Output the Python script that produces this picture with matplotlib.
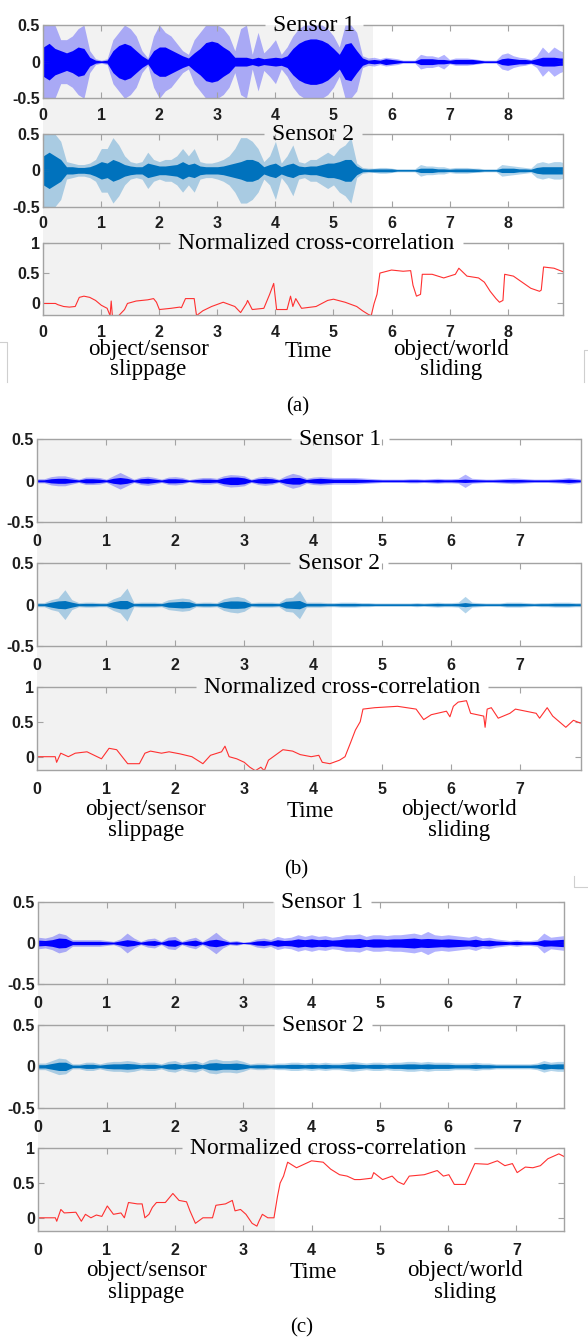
import numpy as np
import matplotlib
matplotlib.use("Agg")
import matplotlib.pyplot as plt
from matplotlib.transforms import blended_transform_factory
from matplotlib.patches import Rectangle
from matplotlib.lines import Line2D

plt.rcParams['font.family'] = ['Liberation Sans', 'DejaVu Sans']
SERIF = ['Liberation Serif', 'DejaVu Serif']

# ---------------- data (envelopes, 0.1 s steps) ----------------
# panel (a), t = 0.0 ... 9.0
core_a1 = [0.20, 0.25, 0.18, 0.15, 0.12, 0.15, 0.20, 0.18, 0.06, 0.02,
           0.01, 0.02, 0.15, 0.22, 0.25, 0.22, 0.15, 0.08, 0.03, 0.15,
           0.20, 0.20, 0.16, 0.12, 0.08, 0.05, 0.12, 0.18, 0.26, 0.28,
           0.26, 0.20, 0.15, 0.06, 0.06, 0.06, 0.04, 0.06, 0.04, 0.05,
           0.06, 0.05, 0.08, 0.18, 0.25, 0.29, 0.31, 0.31, 0.29, 0.25,
           0.18, 0.10, 0.24, 0.26, 0.15, 0.05, 0.02, 0.03, 0.02, 0.04,
           0.03, 0.02, 0.01, 0.01, 0.01, 0.04, 0.04, 0.04, 0.03, 0.03,
           0.02, 0.03, 0.03, 0.03, 0.03, 0.02, 0.01, 0.01, 0.01, 0.04,
           0.05, 0.04, 0.03, 0.03, 0.02, 0.04, 0.06, 0.06, 0.06, 0.05, 0.05]
peak_a1 = [0.50, 0.50, 0.50, 0.30, 0.30, 0.35, 0.45, 0.50, 0.15, 0.04,
           0.02, 0.04, 0.30, 0.40, 0.50, 0.45, 0.35, 0.15, 0.05, 0.35,
           0.50, 0.40, 0.35, 0.25, 0.15, 0.10, 0.30, 0.40, 0.50, 0.50,
           0.50, 0.45, 0.35, 0.15, 0.45, 0.50, 0.10, 0.40, 0.12, 0.20,
           0.30, 0.10, 0.20, 0.35, 0.45, 0.50, 0.50, 0.50, 0.50, 0.45,
           0.35, 0.20, 0.50, 0.50, 0.40, 0.08, 0.05, 0.06, 0.04, 0.06,
           0.05, 0.04, 0.02, 0.02, 0.02, 0.10, 0.08, 0.08, 0.06, 0.10,
           0.03, 0.05, 0.05, 0.05, 0.04, 0.03, 0.02, 0.02, 0.02, 0.10,
           0.12, 0.08, 0.06, 0.05, 0.03, 0.08, 0.20, 0.12, 0.20, 0.15, 0.12]
core_a2 = [0.20, 0.25, 0.20, 0.15, 0.05, 0.05, 0.04, 0.04, 0.05, 0.08,
           0.12, 0.10, 0.15, 0.12, 0.08, 0.06, 0.05, 0.05, 0.10, 0.08,
           0.06, 0.06, 0.07, 0.08, 0.12, 0.08, 0.10, 0.06, 0.05, 0.05,
           0.05, 0.06, 0.08, 0.10, 0.12, 0.15, 0.15, 0.12, 0.05, 0.08,
           0.10, 0.05, 0.08, 0.10, 0.06, 0.05, 0.06, 0.06, 0.08, 0.10,
           0.10, 0.12, 0.15, 0.15, 0.06, 0.02, 0.015, 0.02, 0.02, 0.02,
           0.02, 0.01, 0.01, 0.01, 0.01, 0.03, 0.03, 0.03, 0.02, 0.02,
           0.015, 0.02, 0.02, 0.02, 0.02, 0.015, 0.01, 0.01, 0.01, 0.03,
           0.03, 0.03, 0.02, 0.02, 0.015, 0.04, 0.05, 0.05, 0.05, 0.05, 0.05]
peak_a2 = [0.50, 0.50, 0.50, 0.40, 0.12, 0.10, 0.08, 0.08, 0.10, 0.15,
           0.30, 0.30, 0.45, 0.35, 0.20, 0.12, 0.10, 0.12, 0.25, 0.15,
           0.12, 0.15, 0.15, 0.20, 0.30, 0.20, 0.30, 0.12, 0.10, 0.10,
           0.12, 0.15, 0.20, 0.30, 0.45, 0.45, 0.40, 0.30, 0.12, 0.20,
           0.40, 0.10, 0.20, 0.35, 0.12, 0.10, 0.15, 0.15, 0.20, 0.25,
           0.20, 0.30, 0.35, 0.45, 0.10, 0.04, 0.03, 0.03, 0.04, 0.04,
           0.03, 0.02, 0.02, 0.02, 0.02, 0.08, 0.06, 0.06, 0.05, 0.05,
           0.03, 0.04, 0.04, 0.04, 0.03, 0.03, 0.02, 0.02, 0.02, 0.08,
           0.07, 0.06, 0.05, 0.04, 0.03, 0.10, 0.12, 0.10, 0.12, 0.12, 0.10]
corr_a_t = [0.0, 0.21, 0.25, 0.35, 0.45, 0.55, 0.62, 0.70, 0.80, 0.90,
            1.00, 1.10, 1.15, 1.17, 1.19, 1.30, 1.40, 1.45, 1.60, 1.80,
            1.90, 1.95, 2.00, 2.20, 2.35, 2.38, 2.45, 2.60, 2.64, 2.75,
            2.90, 3.10, 3.30, 3.40, 3.50, 3.52, 3.60, 3.80, 3.90, 3.97,
            4.02, 4.20, 4.26, 4.30, 4.35, 4.45, 4.70, 4.90, 5.00, 5.20,
            5.40, 5.50, 5.60, 5.65, 5.70, 5.75, 5.80, 6.00, 6.20, 6.33,
            6.37, 6.43, 6.50, 6.53, 6.70, 6.90, 7.10, 7.16, 7.30, 7.50,
            7.60, 7.70, 7.80, 7.86, 7.92, 7.95, 8.10, 8.25, 8.40, 8.55,
            8.58, 8.62, 8.80, 8.96]
corr_a_v = [0.00, 0.00, -0.02, -0.05, -0.06, -0.05, 0.10, 0.12, 0.10, 0.05,
            -0.03, -0.08, -0.20, 0.04, -0.20, -0.20, -0.10, 0.00, 0.04, 0.06,
            0.08, 0.02, -0.10, -0.08, -0.06, -0.07, 0.08, 0.08, -0.20, -0.12,
            -0.05, 0.02, -0.05, -0.15, 0.00, 0.05, -0.10, -0.08, 0.15, 0.33,
            -0.10, -0.10, 0.12, -0.05, 0.08, -0.08, -0.05, 0.05, 0.07, 0.02,
            -0.05, -0.12, -0.18, -0.20, 0.00, 0.15, 0.50, 0.55, 0.53, 0.54,
            0.30, 0.12, 0.15, 0.48, 0.48, 0.42, 0.48, 0.58, 0.45, 0.42,
            0.35, 0.20, 0.08, 0.02, 0.05, 0.48, 0.45, 0.35, 0.25, 0.20,
            0.22, 0.60, 0.58, 0.52]

# panel (b), t = 0.0 ... 7.9
core_b1 = [0.012, 0.012, 0.025, 0.030, 0.030, 0.020, 0.010, 0.025, 0.025, 0.020,
           0.010, 0.030, 0.040, 0.030, 0.010, 0.025, 0.030, 0.020, 0.010, 0.025,
           0.025, 0.020, 0.008, 0.015, 0.020, 0.020, 0.015, 0.035, 0.045, 0.045,
           0.035, 0.010, 0.025, 0.030, 0.025, 0.010, 0.030, 0.040, 0.040, 0.015,
           0.025, 0.030, 0.025, 0.020, 0.020, 0.020, 0.020, 0.018, 0.015, 0.012,
           0.010, 0.010, 0.010, 0.010, 0.012, 0.012, 0.010, 0.012, 0.015, 0.012,
           0.012, 0.015, 0.020, 0.015, 0.012, 0.010, 0.010, 0.012, 0.015, 0.015,
           0.015, 0.012, 0.010, 0.010, 0.010, 0.012, 0.015, 0.020, 0.015, 0.010]
peak_b1 = [0.025, 0.025, 0.050, 0.060, 0.060, 0.040, 0.020, 0.045, 0.045, 0.040,
           0.020, 0.060, 0.100, 0.060, 0.020, 0.045, 0.055, 0.040, 0.020, 0.045,
           0.050, 0.040, 0.015, 0.030, 0.040, 0.040, 0.030, 0.060, 0.075, 0.070,
           0.060, 0.020, 0.045, 0.055, 0.045, 0.020, 0.060, 0.090, 0.070, 0.030,
           0.045, 0.050, 0.045, 0.040, 0.040, 0.040, 0.040, 0.035, 0.030, 0.025,
           0.020, 0.020, 0.020, 0.020, 0.025, 0.025, 0.020, 0.025, 0.030, 0.025,
           0.025, 0.030, 0.080, 0.030, 0.025, 0.020, 0.020, 0.025, 0.030, 0.035,
           0.030, 0.025, 0.020, 0.020, 0.020, 0.025, 0.030, 0.040, 0.030, 0.020]
core_b2 = [0.012, 0.012, 0.030, 0.045, 0.050, 0.030, 0.012, 0.015, 0.015, 0.012,
           0.012, 0.035, 0.050, 0.050, 0.012, 0.015, 0.015, 0.015, 0.012, 0.030,
           0.035, 0.040, 0.035, 0.012, 0.015, 0.015, 0.012, 0.035, 0.045, 0.045,
           0.040, 0.012, 0.015, 0.015, 0.015, 0.012, 0.040, 0.045, 0.050, 0.015,
           0.015, 0.015, 0.012, 0.012, 0.015, 0.015, 0.015, 0.012, 0.012, 0.010,
           0.010, 0.010, 0.010, 0.010, 0.010, 0.012, 0.010, 0.012, 0.015, 0.012,
           0.012, 0.015, 0.025, 0.015, 0.012, 0.010, 0.010, 0.010, 0.015, 0.015,
           0.015, 0.012, 0.010, 0.012, 0.012, 0.015, 0.015, 0.015, 0.012, 0.012]
peak_b2 = [0.025, 0.025, 0.060, 0.080, 0.180, 0.060, 0.025, 0.030, 0.030, 0.025,
           0.025, 0.070, 0.100, 0.200, 0.025, 0.030, 0.030, 0.030, 0.025, 0.060,
           0.070, 0.080, 0.070, 0.025, 0.030, 0.030, 0.025, 0.070, 0.090, 0.100,
           0.080, 0.025, 0.030, 0.030, 0.030, 0.025, 0.080, 0.090, 0.170, 0.030,
           0.030, 0.030, 0.025, 0.025, 0.030, 0.030, 0.030, 0.025, 0.025, 0.020,
           0.020, 0.020, 0.020, 0.020, 0.020, 0.025, 0.020, 0.025, 0.030, 0.025,
           0.025, 0.030, 0.100, 0.030, 0.025, 0.020, 0.020, 0.020, 0.030, 0.030,
           0.030, 0.025, 0.020, 0.025, 0.025, 0.030, 0.030, 0.030, 0.025, 0.025]
corr_b_t = [0.0, 0.26, 0.28, 0.34, 0.45, 0.55, 0.72, 0.93, 1.04, 1.15,
            1.23, 1.31, 1.48, 1.56, 1.64, 1.80, 1.91, 2.07, 2.24, 2.40,
            2.51, 2.67, 2.72, 2.78, 2.89, 3.00, 3.08, 3.16, 3.24, 3.29,
            3.35, 3.56, 3.70, 3.81, 3.97, 4.08, 4.13, 4.24, 4.38, 4.46,
            4.54, 4.61, 4.68, 4.72, 4.89, 5.22, 5.49, 5.60, 5.71, 5.93,
            5.98, 6.03, 6.10, 6.22, 6.28, 6.47, 6.49, 6.52, 6.58, 6.68,
            6.85, 6.93, 7.23, 7.28, 7.39, 7.47, 7.66, 7.77, 7.87]
corr_b_v = [0.00, 0.00, -0.08, 0.05, 0.00, 0.05, 0.07, -0.03, 0.12, 0.10,
            0.00, -0.10, -0.10, 0.05, 0.08, 0.05, 0.07, 0.04, 0.00, -0.10,
            0.02, 0.07, 0.15, 0.00, -0.03, -0.08, -0.15, -0.20, -0.15, -0.20,
            -0.05, 0.10, 0.08, 0.03, 0.00, 0.02, -0.08, -0.10, -0.05, 0.00,
            0.20, 0.38, 0.50, 0.68, 0.70, 0.72, 0.68, 0.53, 0.60, 0.65,
            0.57, 0.72, 0.78, 0.80, 0.62, 0.58, 0.42, 0.68, 0.70, 0.55,
            0.62, 0.68, 0.62, 0.55, 0.70, 0.58, 0.42, 0.52, 0.48]

# panel (c), t = 0.0 ... 7.7
core_c1 = [0.035, 0.030, 0.040, 0.060, 0.055, 0.020, 0.020, 0.020, 0.020, 0.020,
           0.015, 0.010, 0.025, 0.040, 0.030, 0.010, 0.025, 0.030, 0.010, 0.035,
           0.040, 0.010, 0.025, 0.035, 0.010, 0.035, 0.045, 0.030, 0.010, 0.015,
           0.005, 0.010, 0.025, 0.030, 0.020, 0.040, 0.030, 0.035, 0.050, 0.040,
           0.050, 0.040, 0.045, 0.035, 0.040, 0.050, 0.050, 0.055, 0.040, 0.050,
           0.050, 0.045, 0.050, 0.050, 0.055, 0.060, 0.050, 0.055, 0.050, 0.045,
           0.050, 0.045, 0.040, 0.035, 0.045, 0.030, 0.035, 0.025, 0.020, 0.015,
           0.020, 0.015, 0.015, 0.020, 0.040, 0.035, 0.040, 0.045]
peak_c1 = [0.070, 0.060, 0.080, 0.120, 0.100, 0.040, 0.040, 0.040, 0.040, 0.040,
           0.030, 0.020, 0.050, 0.120, 0.060, 0.020, 0.050, 0.060, 0.020, 0.070,
           0.080, 0.020, 0.050, 0.070, 0.020, 0.070, 0.130, 0.060, 0.020, 0.030,
           0.010, 0.020, 0.050, 0.060, 0.040, 0.080, 0.060, 0.070, 0.100, 0.080,
           0.100, 0.080, 0.090, 0.070, 0.080, 0.100, 0.100, 0.110, 0.080, 0.100,
           0.100, 0.090, 0.100, 0.100, 0.110, 0.120, 0.100, 0.140, 0.100, 0.090,
           0.100, 0.090, 0.080, 0.070, 0.090, 0.060, 0.070, 0.050, 0.040, 0.030,
           0.040, 0.030, 0.030, 0.040, 0.120, 0.070, 0.080, 0.090]
core_c2 = [0.020, 0.020, 0.035, 0.050, 0.050, 0.015, 0.015, 0.025, 0.025, 0.015,
           0.025, 0.030, 0.030, 0.035, 0.030, 0.020, 0.025, 0.025, 0.015, 0.030,
           0.035, 0.020, 0.030, 0.035, 0.020, 0.040, 0.045, 0.035, 0.035, 0.040,
           0.030, 0.015, 0.020, 0.020, 0.015, 0.020, 0.020, 0.025, 0.025, 0.020,
           0.025, 0.020, 0.025, 0.020, 0.020, 0.025, 0.030, 0.025, 0.020, 0.025,
           0.025, 0.020, 0.025, 0.025, 0.030, 0.030, 0.025, 0.030, 0.025, 0.025,
           0.025, 0.020, 0.020, 0.020, 0.025, 0.020, 0.020, 0.015, 0.015, 0.015,
           0.015, 0.015, 0.015, 0.020, 0.035, 0.025, 0.030, 0.030]
peak_c2 = [0.040, 0.040, 0.070, 0.100, 0.090, 0.030, 0.030, 0.050, 0.050, 0.030,
           0.050, 0.060, 0.060, 0.070, 0.060, 0.040, 0.050, 0.050, 0.030, 0.060,
           0.070, 0.040, 0.060, 0.070, 0.040, 0.080, 0.090, 0.070, 0.070, 0.080,
           0.060, 0.030, 0.040, 0.040, 0.030, 0.040, 0.040, 0.050, 0.050, 0.040,
           0.050, 0.040, 0.050, 0.040, 0.040, 0.050, 0.060, 0.050, 0.040, 0.050,
           0.050, 0.040, 0.050, 0.050, 0.060, 0.060, 0.050, 0.060, 0.050, 0.050,
           0.050, 0.040, 0.040, 0.040, 0.050, 0.040, 0.040, 0.030, 0.030, 0.030,
           0.030, 0.030, 0.030, 0.040, 0.070, 0.050, 0.060, 0.060]
corr_c_t = [0.0, 0.25, 0.27, 0.33, 0.38, 0.55, 0.63, 0.69, 0.77, 0.85,
            0.93, 1.01, 1.10, 1.21, 1.26, 1.32, 1.45, 1.52, 1.56, 1.62,
            1.67, 1.73, 1.86, 1.97, 2.06, 2.17, 2.22, 2.30, 2.41, 2.55,
            2.60, 2.74, 2.84, 2.88, 2.96, 3.04, 3.13, 3.20, 3.23, 3.28,
            3.36, 3.45, 3.50, 3.54, 3.59, 3.65, 3.78, 4.00, 4.17, 4.28,
            4.41, 4.52, 4.63, 4.71, 4.88, 4.91, 5.04, 5.18, 5.26, 5.35,
            5.43, 5.65, 5.84, 5.93, 6.01, 6.09, 6.25, 6.39, 6.58, 6.72,
            6.83, 6.94, 7.01, 7.13, 7.24, 7.35, 7.46, 7.62, 7.70]
corr_c_v = [0.00, 0.00, -0.05, 0.12, 0.07, 0.08, -0.05, 0.05, 0.00, 0.04,
            0.02, 0.17, 0.05, 0.07, 0.00, 0.22, 0.20, 0.20, 0.00, 0.05,
            0.15, 0.22, 0.22, 0.35, 0.25, 0.23, 0.10, -0.08, 0.00, 0.00,
            0.18, 0.20, 0.25, 0.10, 0.12, 0.05, -0.08, -0.12, -0.05, 0.05,
            0.00, 0.00, 0.30, 0.50, 0.60, 0.80, 0.72, 0.82, 0.80, 0.70,
            0.62, 0.60, 0.55, 0.55, 0.57, 0.65, 0.55, 0.60, 0.52, 0.48,
            0.60, 0.62, 0.68, 0.60, 0.62, 0.48, 0.48, 0.78, 0.77, 0.82,
            0.75, 0.78, 0.65, 0.73, 0.72, 0.75, 0.85, 0.92, 0.88]

signals = {
    'a': (core_a1, peak_a1, core_a2, peak_a2, corr_a_t, corr_a_v),
    'b': (core_b1, peak_b1, core_b2, peak_b2, corr_b_t, corr_b_v),
    'c': (core_c1, peak_c1, core_c2, peak_c2, corr_c_t, corr_c_v),
}

# ---------------- layout (pixels of the 588 x 1338 picture) ----------------
W, H = 588, 1338
layout = {
    'a': dict(left=43.3, right=563.3, rows=[(25, 98.3), (134, 206.7), (242.7, 315)],
              xmax=8.96, shade=5.68, tcx=[314, 313, 316.5],
              lab=[148.5, 308, 451], base=(355, 375), cap=(298, 411), pad=7.0),
    'b': dict(left=37.3, right=581.0, rows=[(439.3, 522.3), (563.3, 646), (686.7, 770)],
              xmax=7.88, shade=4.27, tcx=[340, 339, 342],
              lab=[146, 310, 459], base=(815, 836), cap=(296, 874), pad=8.5),
    'c': dict(left=38.3, right=564.3, rows=[(901.7, 984.3), (1025, 1107.7), (1148.3, 1231)],
              xmax=7.70, shade=3.47, tcx=[322, 323, 328],
              lab=[146.6, 313, 465], base=(1276, 1298), cap=(302, 1332), pad=8.5),
}

SPINE = '#a3a3a3'
SHADE = '#f2f2f2'
BLUE1 = '#0000ff'
BLUE2 = '#0072bd'
RED = '#ff3030'
titles = ['Sensor 1', 'Sensor 2', 'Normalized cross-correlation']

fig = plt.figure(figsize=(W / 100, H / 100), dpi=100)


def fx(x):
    return x / W


def fy(y):
    return 1 - y / H


def style_axes(ax, xmax, ylim, yticks, ylabels, pad):
    ax.set_facecolor('none')
    ax.set_xlim(0, xmax)
    ax.set_ylim(*ylim)
    ax.set_xticks(range(int(xmax) + 1))
    ax.set_xticklabels([str(i) for i in range(int(xmax) + 1)], fontweight='bold')
    ax.set_yticks(yticks)
    ax.set_yticklabels(ylabels, fontweight='bold')
    ax.tick_params(direction='in', top=True, right=True, length=4.5, width=0.8,
                   color=SPINE, labelsize=11.5, labelcolor='#1e1e1e')
    ax.tick_params(axis='x', pad=pad)
    ax.tick_params(axis='y', pad=2.5)
    for s in ['left', 'right', 'bottom']:
        ax.spines[s].set_color(SPINE)
        ax.spines[s].set_linewidth(1.0)
    ax.spines['top'].set_visible(False)


title_items = []
for key in ['a', 'b', 'c']:
    L = layout[key]
    core1, peak1, core2, peak2, ct, cv = signals[key]
    axes = []
    for (top, bot) in L['rows']:
        ax = fig.add_axes([fx(L['left']), fy(bot), (L['right'] - L['left']) / W, (bot - top) / H])
        axes.append(ax)

    for ax, core, peak, col in [(axes[0], core1, peak1, BLUE1), (axes[1], core2, peak2, BLUE2)]:
        t = np.arange(len(core)) * 0.1
        core = np.array(core)
        peak = np.array(peak)
        ax.fill_between(t, -peak, peak, color=col, alpha=0.3, lw=0)
        ax.fill_between(t, -core, core, color=col, lw=0)
        ax.plot(t, np.zeros_like(t), color=col, lw=0.8)
        style_axes(ax, L['xmax'], (-0.5, 0.5), [-0.5, 0, 0.5], ['-0.5', '0', '0.5'], L['pad'])

    axes[2].plot(ct, cv, color=RED, lw=0.8)
    style_axes(axes[2], L['xmax'], (-0.19, 1.0), [0, 0.5, 1], ['0', '0.5', '1'], L['pad'])

    # grey background behind the slippage part
    tr = blended_transform_factory(axes[2].transData, fig.transFigure)
    top_f, bot_f = fy(L['rows'][0][0]), fy(L['rows'][2][1])
    fig.patches.append(Rectangle((0, bot_f), L['shade'], top_f - bot_f, transform=tr,
                                 facecolor=SHADE, edgecolor='none', zorder=-5))

    for ax, (top, bot), name, cx in zip(axes, L['rows'], titles, L['tcx']):
        txt = fig.text(fx(cx), fy(top + 6), name, ha='center', va='baseline',
                       fontsize=17, family=SERIF)
        title_items.append((ax, txt))

    b1, b2 = L['base']
    fig.text(fx(L['lab'][0]), fy(b1), 'object/sensor', ha='center', va='baseline', fontsize=16.5, family=SERIF)
    fig.text(fx(L['lab'][0]), fy(b2), 'slippage', ha='center', va='baseline', fontsize=16.5, family=SERIF)
    fig.text(fx(L['lab'][1]), fy(b1 + 2), 'Time', ha='center', va='baseline', fontsize=16.5, family=SERIF)
    fig.text(fx(L['lab'][2]), fy(b1), 'object/world', ha='center', va='baseline', fontsize=16.5, family=SERIF)
    fig.text(fx(L['lab'][2]), fy(b2), 'sliding', ha='center', va='baseline', fontsize=16.5, family=SERIF)
    fig.text(fx(L['cap'][0]), fy(L['cap'][1]), '(%s)' % key, ha='center', va='baseline',
             fontsize=15, family=SERIF)

# top frame line with a gap where the title sits
fig.canvas.draw()
renderer = fig.canvas.get_renderer()
for ax, txt in title_items:
    bb = txt.get_window_extent(renderer)
    inv = ax.transAxes.inverted()
    x0 = inv.transform((bb.x0 - 8, 0))[0]
    x1 = inv.transform((bb.x1 + 8, 0))[0]
    for a, b in [(0, x0), (x1, 1)]:
        ax.plot([a, b], [1, 1], transform=ax.transAxes, color=SPINE, lw=1.0,
                clip_on=False, solid_capstyle='butt')

# little frame fragments at the page edges
for xs, ys in [([0, 6.7, 6.7], [342, 342, 382]),
               ([588, 584.3, 584.3], [350, 350, 382]),
               ([574, 574, 588], [876, 887, 887])]:
    fig.lines.append(Line2D([fx(v) for v in xs], [fy(v) for v in ys], transform=fig.transFigure,
                            color='#cfcfcf', lw=0.8))

fig.savefig('out.png', dpi=100)
